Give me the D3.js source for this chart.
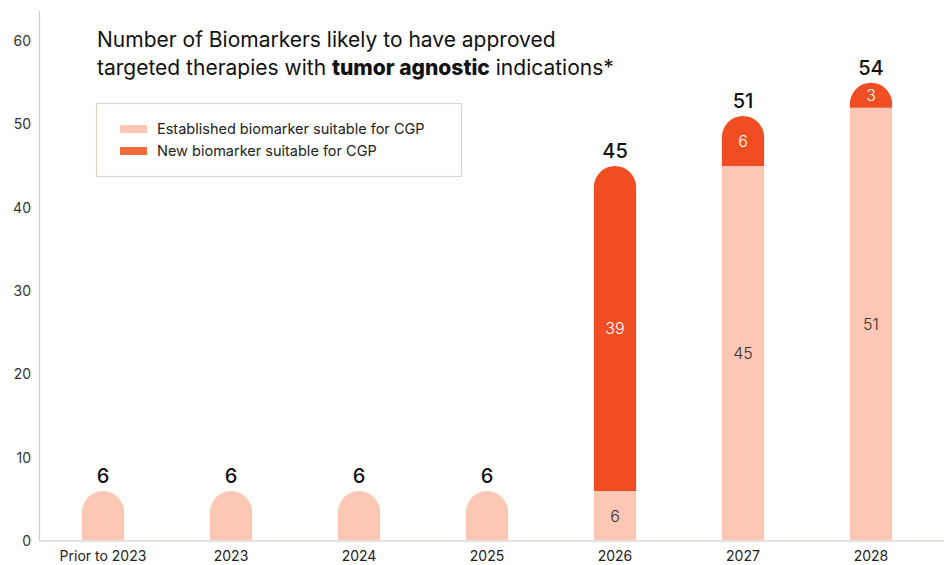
<!DOCTYPE html>
<html><head><meta charset="utf-8">
<script src="https://cdn.jsdelivr.net/npm/d3@7"></script>
<style>
html,body{margin:0;padding:0;background:#fff;}
svg{display:block;font-family:Inter,"Noto Sans",sans-serif;}
</style></head>
<body>
<svg id="chart" width="944" height="565"></svg>
<script>
const categories = ["Prior to 2023","2023","2024","2025","2026","2027","2028"];
const established = [6,6,6,6,6,45,52];
const newer = [0,0,0,0,39,6,3];
const totalLabels = ["6","6","6","6","45","51","54"];
const establishedLabels = ["","","","","6","45","51"];
const newLabels = ["","","","","39","6","3"];
const yTicks = [0,10,20,30,40,50,60];
const seriesNames = ["Established biomarker suitable for CGP","New biomarker suitable for CGP"];

const colLight = "#fcc8b5", colDark = "#f04d23";
const svg = d3.select("#chart");
const x = d3.scaleBand().domain(categories).range([39,935]).paddingInner(0.67).paddingOuter(0.335);
const y = d3.scaleLinear().domain([0,60]).range([541,41]);
const bw = x.bandwidth();
const r = bw/2;

svg.append("line").attr("x1",39.5).attr("x2",39.5).attr("y1",11).attr("y2",541).attr("stroke","#d8cec7").attr("stroke-width",1.2);

svg.append("g").selectAll("text").data(yTicks).join("text")
  .attr("x",31).attr("y",d=>y(d)).attr("dy","0.35em").attr("text-anchor","end")
  .attr("font-size",14).attr("fill","#333").text(d=>d);

function roundedTop(x0,yTop,w,yBot,rad){
  const h = yBot-yTop; const rr = Math.min(rad,h);
  return `M${x0},${yBot}V${yTop+rr}A${rad},${rr} 0 0 1 ${x0+w},${yTop+rr}V${yBot}Z`;
}

const data = categories.map((c,i)=>({c,e:established[i],n:newer[i],t:totalLabels[i],el:establishedLabels[i],nl:newLabels[i]}));
const g = svg.append("g");
data.forEach(d=>{
  const x0 = x(d.c);
  const yE = y(d.e), yT = y(d.e+d.n);
  if(d.n>0){
    g.append("rect").attr("x",x0).attr("y",yE).attr("width",bw).attr("height",y(0)-yE).attr("fill",colLight);
    g.append("path").attr("d",roundedTop(x0,yT,bw,yE,r)).attr("fill",colDark);
  } else {
    g.append("path").attr("d",roundedTop(x0,yE,bw,y(0),r)).attr("fill",colLight);
  }
  const cx = x0+bw/2;
  if(d.el){
    g.append("text").attr("x",cx).attr("y",(yE+y(0))/2).attr("dy","0.35em").attr("text-anchor","middle")
      .attr("font-size",16).attr("font-weight",300).attr("fill","#333").text(d.el);
  }
  if(d.nl){
    g.append("text").attr("x",cx).attr("y",(yE+yT)/2).attr("dy","0.35em").attr("text-anchor","middle")
      .attr("font-size",16).attr("font-weight",300).attr("fill","#fff").text(d.nl);
  }
  g.append("text").attr("x",cx).attr("y",yT-8).attr("text-anchor","middle")
    .attr("font-size",20).attr("font-weight",500).attr("fill","#111").text(d.t);
});

svg.append("line").attr("x1",39).attr("x2",944).attr("y1",541).attr("y2",541).attr("stroke","#e6e1dd").attr("stroke-width",2);

svg.append("g").selectAll("text").data(categories).join("text")
  .attr("x",d=>x(d)+bw/2).attr("y",556).attr("dy","0.35em").attr("text-anchor","middle")
  .attr("font-size",14).attr("fill","#222").text(d=>d);

const title = svg.append("text").attr("x",97).attr("font-size",21).attr("fill","#111");
title.append("tspan").attr("x",97).attr("y",47).text("Number of Biomarkers likely to have approved");
const l2 = title.append("tspan").attr("x",97).attr("y",75);
l2.append("tspan").text("targeted therapies with ");
l2.append("tspan").attr("font-weight",800).text("tumor agnostic");
l2.append("tspan").text(" indications*");

svg.append("rect").attr("x",96.5).attr("y",103.5).attr("width",365).attr("height",73).attr("fill","none").attr("stroke","#ddd4ce").attr("stroke-width",1.2);
const legCols = ["#fcc6b2","#f06a3b"];
seriesNames.forEach((s,i)=>{
  const yy = 129 + i*22;
  svg.append("rect").attr("x",120).attr("y",yy-4).attr("width",27).attr("height",8).attr("fill",legCols[i]);
  svg.append("text").attr("x",157).attr("y",yy).attr("dy","0.35em").attr("font-size",14.5).attr("fill","#222").text(s);
});
</script>
</body></html>
